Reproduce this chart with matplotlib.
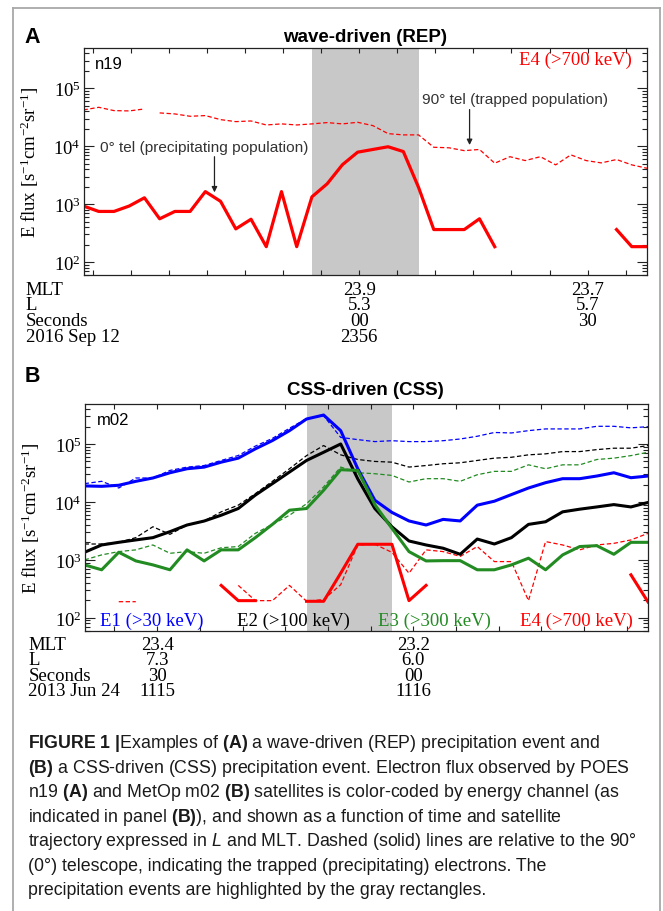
import numpy as np
import matplotlib
matplotlib.use('Agg')
import matplotlib.pyplot as plt
import matplotlib.ticker as tck
import matplotlib.transforms as mtrans
from matplotlib.lines import Line2D

plt.rcParams['mathtext.fontset'] = 'custom'
plt.rcParams['mathtext.rm'] = 'Liberation Sans'
plt.rcParams['mathtext.bf'] = 'Liberation Sans:bold'
plt.rcParams['mathtext.it'] = 'Liberation Sans:italic'

nan = np.nan

# ---- panel A: n19, 2016 Sep 12, seconds relative to 23:56:00 UT (2 s samples)
t_a = np.arange(38) * 2.0 - 36.2
a_prec = [930, 750, 750, 930, 1290, 560, 750, 750, 1650, 1120, 375, 550, 185, 1650,
          185, 1340, 2250, 4800, 7900, 8800, 9800, 8100, 1950, 365, 365, 365, 560, 185,
          nan, nan, nan, nan, nan, nan, nan, 365, 185, 185]
a_trap = [42300, 47000, 41200, 40700, 44000, 37600, 36100, 32900, 33800, 28800, 26600,
          27300, 23300, 24300, 23300, 24300, 25600, 24300, 25900, 22700, 16500, 15700,
          15700, 9600, 9400, 8400, 8800, 5100, 6600, 5660, 6600, 4770, 7100, 5660, 5160,
          5900, 4770, 4170]
a_trap_gap = 5          # trapped flux missing between samples 4 and 5
a_event = (15, 22)      # sample index range of the REP event
a_ticks = [0, 30]
a_rows = {'MLT': ['23.9', '23.7'], 'L': ['5.3', '5.7'], 'Seconds': ['00', '30'],
          '2016 Sep 12': ['2356', '']}

# ---- panel B: m02, 2013 Jun 24, seconds relative to 11:16:00 UT
t_b = np.arange(34) * 2.0 - 38.5
e1_prec = [18900, 18600, 19400, 22700, 25900, 31900, 37400, 39900, 48600, 57000, 82400,
           114600, 170000, 270000, 316000, 170000, 37400, 10700, 6600, 4700, 4000, 5000,
           4700, 8800, 10300, 13400, 17400, 21500, 25200, 25200, 28000, 31900, 26200, 28000]
e1_trap = [20700, 22700, 17400, 25900, 25900, 35000, 39900, 42500, 52000, 63300, 91900,
           125000, 187000, 274000, 308000, 130000, 119000, 110000, 114000, 110000, 110000,
           114000, 122000, 136000, 158000, 155000, 170000, 182000, 182000, 182000, 202000,
           202000, 190000, 199000]
e2_prec = [1355, 1810, 2010, 2210, 2420, 3070, 4000, 4680, 5900, 7700, 13100, 20700,
           32800, 52000, 72000, 100000, 25000, 7700, 3730, 2120, 1810, 1590, 1250, 2290,
           1880, 2420, 4100, 4550, 6750, 7500, 8200, 9000, 8200, 9800]
e2_trap = [1880, 1880, 2010, 2420, 3730, 2760, 4000, 4680, 6750, 8800, 13900, 22700,
           37400, 63000, 94000, 65000, 54000, 50000, 48600, 40000, 42500, 45600, 47400,
           52000, 57000, 59000, 65000, 67600, 74000, 74000, 80000, 84600, 84600, 94000]
e3_prec = [820, 675, 1355, 960, 820, 675, 1490, 960, 1490, 1490, 2420, 4100, 7200, 7700,
           15900, 36000, 35000, 9000, 3500, 1390, 960, 970, 970, 675, 675, 820, 1070, 675,
           1220, 1700, 1760, 1250, 2010, 2010]
e3_trap = [1000, 1220, 1390, 1490, 1810, 1300, 1390, 1300, 1620, 1700, 2870, 4100, 5900,
           9300, 18200, 40000, 31900, 30700, 28700, 22100, 25200, 25200, 22700, 29500,
           33700, 33700, 43700, 37400, 43700, 43700, 54000, 57000, 63000, 72000]
e4_prec = [nan, nan, nan, nan, nan, nan, nan, nan, 363, 198, 198, nan, nan, 193, 193, 590,
           1860, 1860, 1860, 198, 363, nan, nan, nan, nan, nan, nan, nan, nan, nan, nan,
           nan, 553, 188]
e4_trap = [nan, nan, 190, 190, nan, nan, nan, nan, nan, 363, 198, 198, 363, 193, 207, 373,
           1810, 1860, 1350, 590, 1490, 1390, 1150, 1700, 935, 935, 198, 2070, 1810, 1490,
           1810, 1930, 2210, 2870]
b_event = (13, 18)
b_ticks = [-30, 0]
b_rows = {'MLT': ['23.4', '23.2'], 'L': ['7.3', '6.0'], 'Seconds': ['30', '00'],
          '2013 Jun 24': ['1115', '1116']}

channels = ['E1 (>30 keV)', 'E2 (>100 keV)', 'E3 (>300 keV)', 'E4 (>700 keV)']
colors = ['#0000ff', 'black', '#228b22', '#ff0000']

W, H = 663, 912
SERIF = 'Liberation Serif'
SANS = 'Liberation Sans'
GRAY = '#c8c8c8'
DASH = (0, (3.5, 2))


def fy(y):
    return 1 - y / H


def style_axes(ax, t):
    ax.set_yscale('log')
    ax.set_ylim(60, 4.9e5)
    ax.set_xlim(t[0], t[-1])
    ax.xaxis.set_major_locator(tck.MultipleLocator(5))
    ax.xaxis.set_major_formatter(tck.NullFormatter())
    ax.yaxis.set_major_locator(tck.LogLocator(base=10, numticks=10))
    ax.yaxis.set_minor_locator(tck.LogLocator(base=10, subs=np.arange(2, 10), numticks=10))
    ax.yaxis.set_minor_formatter(tck.NullFormatter())
    ax.tick_params(axis='both', which='both', direction='in', top=True, right=True,
                   color='#222222', width=0.8)
    ax.tick_params(axis='x', which='major', length=3.5)
    ax.tick_params(axis='y', which='major', length=7, pad=2, labelsize=13.5)
    ax.tick_params(axis='y', which='minor', length=3.5)
    for lab in ax.get_yticklabels():
        lab.set_fontfamily(SERIF)
    for sp in ax.spines.values():
        sp.set_linewidth(0.9)
        sp.set_color('#222222')
    ax.set_ylabel(r'E flux [$\mathdefault{s^{-1}cm^{-2}sr^{-1}}$]', family=SERIF,
                  fontsize=13.5)
    ax.yaxis.set_label_coords(-0.076, 0.5)


def orbit_rows(ax, ticks, rows, x_left, y_first):
    tr = mtrans.blended_transform_factory(ax.transData, fig.transFigure)
    for i, (name, vals) in enumerate(rows.items()):
        y = fy(y_first + i * 15.5)
        fig.text(x_left / W, y, name, family=SERIF, fontsize=13.5, va='baseline')
        for tv, v in zip(ticks, vals):
            ax.text(tv, y, v, transform=tr, family=SERIF, fontsize=13.5,
                    ha='center', va='baseline')


fig = plt.figure(figsize=(W / 100, H / 100), dpi=100)

# page frame
for xs, ys in [([12.7, 12.7], [8.5, H]), ([12.7, 660], [8.5, 8.5]), ([660, 660], [8.5, H])]:
    fig.add_artist(Line2D([x / W for x in xs], [fy(y) for y in ys],
                          transform=fig.transFigure, color='#a8a8a8', lw=1.3))

# ---------------- panel A
ax_a = fig.add_axes([83.5 / W, fy(276), 563.5 / W, 226.7 / H])
ax_a.axvspan(t_a[a_event[0]], t_a[a_event[1]], color=GRAY, lw=0, zorder=0)
ax_a.plot(t_a[:a_trap_gap], a_trap[:a_trap_gap], color=colors[3], lw=0.9, ls=DASH)
ax_a.plot(t_a[a_trap_gap:], a_trap[a_trap_gap:], color=colors[3], lw=0.9, ls=DASH)
ax_a.plot(t_a, a_prec, color=colors[3], lw=2.3)
style_axes(ax_a, t_a)

ax_a.text(0.021, 0.965, 'n19', transform=ax_a.transAxes, family=SANS, fontsize=12,
          va='top')
ax_a.text(0.974, 0.93, channels[3], transform=ax_a.transAxes, family=SERIF, fontsize=13.5,
          color=colors[3], ha='right', va='baseline')
ax_a.annotate('', xy=(-19.0, 1600), xytext=(-19.0, 6600),
              arrowprops=dict(arrowstyle='-|>', color='#222222', lw=0.9,
                              mutation_scale=8, shrinkA=0, shrinkB=0))
ax_a.text(-20.4, 9800, '0° tel (precipitating population)', family=SANS, fontsize=11.1,
          color='#333333', ha='center', va='center')
ax_a.annotate('', xy=(14.5, 10500), xytext=(14.5, 43000),
              arrowprops=dict(arrowstyle='-|>', color='#222222', lw=0.9,
                              mutation_scale=8, shrinkA=0, shrinkB=0))
ax_a.text(20.5, 65500, '90° tel (trapped population)', family=SANS, fontsize=11.1,
          color='#333333', ha='center', va='center')

fig.text(24 / W, fy(43.3), 'A', family=SANS, fontweight='bold', fontsize=15.5,
         va='baseline')
fig.text(365 / W, fy(41.7), 'wave-driven (REP)', family=SANS, fontweight='bold',
         fontsize=13.5, ha='center', va='baseline')
orbit_rows(ax_a, a_ticks, a_rows, 25.5, 295)

# ---------------- panel B
ax_b = fig.add_axes([84.6 / W, fy(631.7), 563.4 / W, 226.7 / H])
ax_b.axvspan(t_b[b_event[0]], t_b[b_event[1]], color=GRAY, lw=0, zorder=0)
for trap, col in zip([e1_trap, e2_trap, e3_trap, e4_trap], colors):
    ax_b.plot(t_b, trap, color=col, lw=0.9, ls=DASH)
for prec, col in zip([e1_prec, e2_prec, e3_prec, e4_prec], colors):
    ax_b.plot(t_b, prec, color=col, lw=2.2)
style_axes(ax_b, t_b)

ax_b.text(0.021, 0.965, 'm02', transform=ax_b.transAxes, family=SANS, fontsize=12,
          va='top')
for xl, name, col in zip([100.2, 236.8, 378.4, 520.1], channels, colors):
    fig.text(xl / W, fy(626), name, family=SERIF, fontsize=13.5, color=col,
             va='baseline')

fig.text(24.5 / W, fy(381.7), 'B', family=SANS, fontweight='bold', fontsize=15.5,
         va='baseline')
fig.text(365 / W, fy(395), 'CSS-driven (CSS)', family=SANS, fontweight='bold',
         fontsize=13.5, ha='center', va='baseline')
orbit_rows(ax_b, b_ticks, b_rows, 28.5, 650)

# ---------------- caption
caption = [
    r'$\mathbf{FIGURE\ 1}$ $\mathbf{|}$Examples of $\mathbf{(A)}$ a wave-driven (REP) precipitation event and',
    r'$\mathbf{(B)}$ a CSS-driven (CSS) precipitation event. Electron flux observed by POES',
    r'n19 $\mathbf{(A)}$ and MetOp m02 $\mathbf{(B)}$ satellites is color-coded by energy channel (as',
    r'indicated in panel $\mathbf{(B)}$), and shown as a function of time and satellite',
    r'trajectory expressed in $\mathit{L}$ and MLT. Dashed (solid) lines are relative to the 90°',
    r'(0°) telescope, indicating the trapped (precipitating) electrons. The',
    r'precipitation events are highlighted by the gray rectangles.',
]
for i, line in enumerate(caption):
    fig.text(28.3 / W, fy(748.3 + i * 24.45), line, family=SANS, fontsize=12.8,
             color='#1a1a1a', va='baseline')

fig.savefig('out.png', dpi=100)
